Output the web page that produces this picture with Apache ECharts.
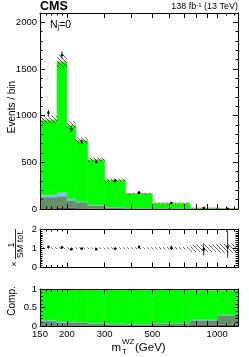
<!DOCTYPE html>
<html><head><meta charset="utf-8">
<script src="https://cdn.jsdelivr.net/npm/echarts@6/dist/echarts.min.js"></script>
<style>html,body{margin:0;padding:0;background:#fff}#c{width:249px;height:357px}</style>
</head><body><div id="c"></div>
<script>
// ---- data ----
const binEdges = [150, 180, 200, 220, 250, 300, 375, 500, 750, 1000, 1250];
const xTickLabels = [150, 200, 300, 500, 1000];
const xMajorTicks = [200, 300, 400, 500, 600, 700, 800, 900, 1000];
const xMinorTicks = [160, 170, 180, 190, 1100, 1200];
const mainYLabels = [0, 500, 1000, 1500, 2000];
const ratioYLabels = [0, 1, 2];
const compYLabels = [0, 0.5, 1];
// stacked components (bottom -> top), events per bin
const other  = [10, 18, 15, 10, 6, 3, 1.5, 0.6, 0.3, 0.1];
const orange = [1, 1.5, 1, 0.8, 0.5, 0.3, 0.2, 0.1, 0.05, 0.03];
const zz     = [116, 118, 76, 62, 28, 12, 5.3, 3.3, 1.15, 0.59];
const blue   = [26, 43, 18, 8, 10, 5, 2, 1, 0.2, 0.05];
const wz     = [798, 1393, 786, 651, 482, 288, 155, 57, 8, 1.65];
const pink   = [4, 6, 4, 3, 3, 2, 1.2, 0.8, 0.3, 0.08];
const bkgUnc = [45, 75, 42, 33, 24, 15, 8, 4, 2, 0.6];
const dataVals  = [1030, 1650, 855, 720, 505, 302, 175, 64, 9.5, 2.7];
const dataErrUp = [32, 41, 29, 27, 22, 17, 13, 8, 3.3, 2.1];
const dataErrDn = [32, 41, 29, 27, 22, 17, 13, 8, 3.3, 1.4];

// ---- helpers ----
const LX = v => Math.log10(v);
const xMin = LX(binEdges[0]), xMax = LX(binEdges[binEdges.length - 1]);
const nb = wz.length;
const layerDefs = [
  {vals: other, color: '#555555'},
  {vals: orange, color: '#f0a030'},
  {vals: zz, color: '#63906a'},
  {vals: blue, color: '#8cbcef'},
  {vals: wz, color: '#00ff00'},
  {vals: pink, color: '#f2a0a0'}
];
const total = [];
for (let i = 0; i < nb; i++) total.push(layerDefs.reduce((s, l) => s + l.vals[i], 0));

const pc = document.createElement('canvas'); pc.width = 4; pc.height = 4;
const g2 = pc.getContext('2d'); g2.strokeStyle = '#222'; g2.lineWidth = 0.7;
g2.beginPath(); g2.moveTo(0, 0); g2.lineTo(4, 4); g2.moveTo(-1, 3); g2.lineTo(1, 5); g2.moveTo(3, -1); g2.lineTo(5, 1); g2.stroke();
const hatch = {image: pc, repeat: 'repeat'};

const FONT = 'Liberation Sans, Arial, sans-serif';
const grids = [
  {left: 40, width: 198, top: 13, height: 196},
  {left: 40, width: 198, top: 229, height: 38.5},
  {left: 40, width: 198, top: 289, height: 37}
];
const yCfg = [
  {min: 0, max: 2100, labels: mainYLabels, minorStep: 100},
  {min: 0, max: 2, labels: ratioYLabels, minorStep: 0.1},
  {min: 0, max: 1, labels: compYLabels, minorStep: 0.1}
];
const xAxes = [], yAxes = [];
function tick(len, vals) { return {show: true, inside: true, length: len, customValues: vals, lineStyle: {color: '#000', width: 1}}; }
grids.forEach((gr, g) => {
  const last = g === 2;
  [['bottom', true], ['top', false]].forEach(([pos, prim]) => {
    xAxes.push({type: 'value', gridIndex: g, position: pos, min: xMin, max: xMax, z: 10,
      axisLine: {show: true, onZero: false, lineStyle: {color: '#000', width: 1}},
      axisTick: tick(5, xMajorTicks.map(LX)),
      axisLabel: {show: last && prim, customValues: xTickLabels.map(LX), formatter: v => String(Math.round(Math.pow(10, v))),
        fontSize: 9.5, fontFamily: FONT, color: '#000', margin: 3},
      splitLine: {show: false}});
    xAxes.push({type: 'value', gridIndex: g, position: pos, min: xMin, max: xMax, z: 10,
      axisLine: {show: false, onZero: false}, axisTick: tick(2.5, xMinorTicks.map(LX)),
      axisLabel: {show: false}, splitLine: {show: false}});
  });
  const c = yCfg[g];
  const minors = [];
  for (let v = c.min + c.minorStep; v < c.max - 1e-9; v += c.minorStep) {
    const r = Math.round(v * 1000) / 1000;
    if (!c.labels.some(l => Math.abs(l - r) < 1e-9)) minors.push(r);
  }
  [['left', true], ['right', false]].forEach(([pos, prim]) => {
    yAxes.push({type: 'value', gridIndex: g, position: pos, min: c.min, max: c.max, z: 10,
      axisLine: {show: true, onZero: false, lineStyle: {color: '#000', width: 1}},
      axisTick: tick(5, c.labels),
      axisLabel: {show: prim, customValues: c.labels, formatter: v => String(v), fontSize: 9.5, fontFamily: FONT, color: '#000', margin: 3},
      splitLine: {show: false}});
    yAxes.push({type: 'value', gridIndex: g, position: pos, min: c.min, max: c.max, z: 10,
      axisLine: {show: false, onZero: false}, axisTick: tick(2.5, minors),
      axisLabel: {show: false}, splitLine: {show: false}});
  });
});

function rectRender(fill) {
  return function (params, api) {
    const p0 = api.coord([api.value(0), api.value(3)]);
    const p1 = api.coord([api.value(1), api.value(2)]);
    return {type: 'rect', shape: {x: p0[0], y: p0[1], width: p1[0] - p0[0], height: p1[1] - p0[1]},
      style: fill === hatch ? {fill: hatch} : {fill: fill, stroke: fill, lineWidth: 0.4}};
  };
}
function ptRender(params, api) {
  const c = api.coord([api.value(0), api.value(1)]);
  const lo = api.coord([api.value(0), api.value(2)]);
  const hi = api.coord([api.value(0), api.value(3)]);
  return {type: 'group', children: [
    {type: 'line', shape: {x1: c[0], y1: lo[1], x2: c[0], y2: hi[1]}, style: {stroke: '#000', lineWidth: 0.8}},
    {type: 'circle', shape: {cx: c[0], cy: c[1], r: 1.3}, style: {fill: '#000'}}
  ]};
}
const series = [];
function addRects(g, data, fill, z) {
  series.push({type: 'custom', xAxisIndex: 4 * g, yAxisIndex: 4 * g, clip: true, silent: true, z: z || 2,
    renderItem: rectRender(fill), data: data, animation: false});
}
// main + comp stacks
const cum = new Array(nb).fill(0);
layerDefs.forEach(l => {
  const dMain = [], dComp = [];
  for (let i = 0; i < nb; i++) {
    const x0 = LX(binEdges[i]), x1 = LX(binEdges[i + 1]);
    const lo = cum[i], hi = cum[i] + l.vals[i];
    dMain.push([x0, x1, lo, hi]);
    dComp.push([x0, x1, lo / total[i], hi / total[i]]);
    cum[i] = hi;
  }
  addRects(0, dMain, l.color);
  addRects(2, dComp, l.color);
});
// uncertainty bands
const bandMain = [], bandRatio = [], ptsMain = [], ptsRatio = [];
for (let i = 0; i < nb; i++) {
  const x0 = LX(binEdges[i]), x1 = LX(binEdges[i + 1]), xc = (x0 + x1) / 2;
  bandMain.push([x0, x1, total[i] - bkgUnc[i], total[i] + bkgUnc[i]]);
  bandRatio.push([x0, x1, 1 - bkgUnc[i] / total[i], 1 + bkgUnc[i] / total[i]]);
  ptsMain.push([xc, dataVals[i], dataVals[i] - dataErrDn[i], dataVals[i] + dataErrUp[i]]);
  ptsRatio.push([xc, dataVals[i] / total[i], (dataVals[i] - dataErrDn[i]) / total[i], (dataVals[i] + dataErrUp[i]) / total[i]]);
}
addRects(0, bandMain, hatch, 3);
addRects(1, bandRatio, hatch, 3);
[[0, ptsMain], [1, ptsRatio]].forEach(([g, d]) => {
  series.push({type: 'custom', xAxisIndex: 4 * g, yAxisIndex: 4 * g, clip: true, silent: true, z: 4,
    renderItem: ptRender, data: d, animation: false});
});

function txt(x, y, text, size, opts) {
  opts = opts || {};
  return {type: 'text', x: x, y: y, rotation: opts.rot || 0, z: 20,
    style: {text: text, fontSize: size, fontFamily: FONT, fontWeight: opts.bold ? 'bold' : 'normal', fill: '#000',
      align: opts.align || 'left', verticalAlign: 'middle', rich: opts.rich}};
}
const graphic = [
  txt(40, 6.5, 'CMS', 12.5, {bold: true}),
  txt(238, 7, '138 fb{s|-1} (13 TeV)', 9, {align: 'right', rich: {s: {fontSize: 6, verticalAlign: 'top', fontFamily: FONT}}}),
  txt(50, 25.5, 'N{j|j}=0', 10.5, {rich: {j: {fontSize: 7, verticalAlign: 'bottom', fontFamily: FONT}}}),
  txt(12, 107, 'Events / bin', 10, {align: 'center', rot: Math.PI / 2}),
  txt(12, 301, 'Comp.', 10, {align: 'center', rot: Math.PI / 2}),
  txt(11.5, 245, '1', 9, {align: 'center', rot: Math.PI / 2}),
  txt(20.5, 244, 'SM tot.', 9, {align: 'center', rot: Math.PI / 2}),
  txt(14.5, 264, '×', 9, {align: 'center', rot: Math.PI / 2}),
  {type: 'line', z: 20, shape: {x1: 15.5, y1: 229, x2: 15.5, y2: 259}, style: {stroke: '#000', lineWidth: 0.8}},
  txt(111.5, 347.5, 'm', 11.5),
  txt(122, 341.5, 'WZ', 8),
  txt(122, 351.5, 'T', 8),
  txt(135, 347.5, '(GeV)', 11.5)
];

const chart = echarts.init(document.getElementById('c'), null, {renderer: 'canvas'});
chart.setOption({
  animation: false,
  backgroundColor: '#fff',
  grid: grids.map(g => Object.assign({containLabel: false, outerBoundsMode: 'none'}, g)),
  xAxis: xAxes,
  yAxis: yAxes,
  series: series,
  graphic: graphic
});
</script>
</body></html>
